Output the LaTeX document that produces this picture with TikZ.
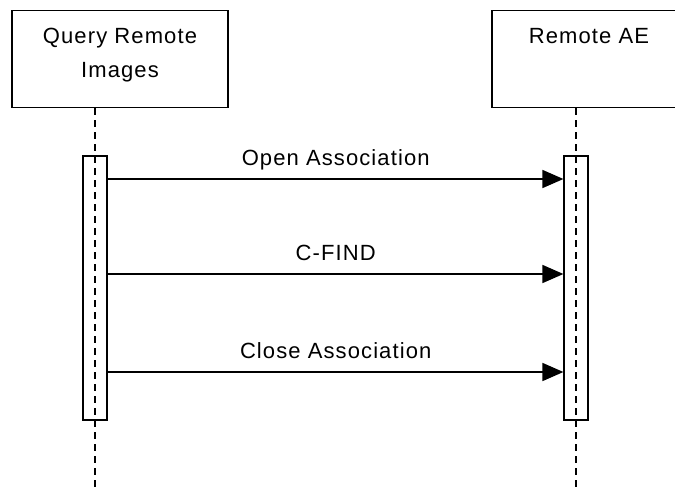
\documentclass[tikz,border=0pt]{standalone}
\usepackage{fontspec}
\setmainfont{Liberation Sans}[LetterSpace=5]
\usetikzlibrary{positioning,arrows.meta}

\begin{document}
\begin{tikzpicture}[x=1pt,y=-1pt,
    head/.style={draw,line width=1.6pt,minimum width=216pt,minimum height=97pt,inner sep=0pt},
    act/.style={draw,line width=1.6pt,minimum width=24pt,minimum height=264pt,inner sep=0pt},
    life/.style={line width=1.6pt,dash pattern=on 7pt off 5pt},
    msg/.style={line width=1.6pt,-{Triangle[length=21pt,width=18pt]}},
    lbl/.style={font=\fontsize{22}{34}\selectfont,align=center,inner sep=0pt,text depth=0pt}]
  \useasboundingbox (0,0) rectangle (675,491);
  \clip (0,0) rectangle (675,491);
  % object heads
  \node[head] (qri) at (120,59) {};
  \node[head] (rae) at (600,59) {};
  \node[lbl,anchor=north] (qritxt) at (120,28) {Query Remote\\Images};
  \node[lbl,anchor=north] (raetxt) at (589,28) {Remote AE};
  % lifelines
  \coordinate (qtop) at ([xshift=84pt]qri.south west);
  \coordinate (rtop) at ([xshift=85pt]rae.south west);
  \coordinate (qbot) at (qtop |- 0,491);
  \coordinate (rbot) at (rtop |- 0,491);
  \draw[life] (qtop) -- (qbot);
  \draw[life] (rtop) -- (rbot);
  % activations
  \node[act,anchor=north] (qact) at (qtop |- 0,155) {};
  \node[act,anchor=north] (ract) at (rtop |- 0,155) {};
  % messages
  \coordinate (m1) at (0,179);
  \coordinate (m2) at (0,274);
  \coordinate (m3) at (0,372);
  \draw[msg] (qact.east |- m1) -- (ract.west |- m1) node[lbl,midway,above=13pt] {Open Association};
  \draw[msg] (qact.east |- m2) -- (ract.west |- m2) node[lbl,midway,above=13pt] {C-FIND};
  \draw[msg] (qact.east |- m3) -- (ract.west |- m3) node[lbl,midway,above=13pt] {Close Association};
\end{tikzpicture}
\end{document}
